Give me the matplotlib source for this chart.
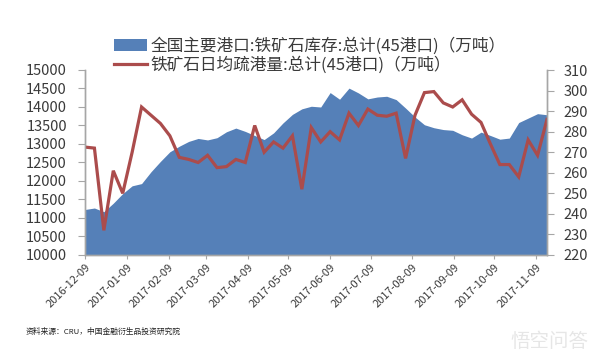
import matplotlib
matplotlib.use('Agg')
import matplotlib.pyplot as plt
import matplotlib.dates as mdates
import pandas as pd

plt.rcParams['font.family'] = ['Noto Sans CJK SC', 'DejaVu Sans']

start_date = '2016-12-09'
n_weeks = 50
stock = [11230, 11270, 11170, 11400, 11660, 11870, 11930, 12250, 12530, 12790,
         12940, 13070, 13150, 13110, 13170, 13330, 13430, 13340, 13230, 13120,
         13300, 13570, 13800, 13950, 14020, 14000, 14390, 14210, 14510, 14380,
         14220, 14270, 14290, 14200, 13970, 13730, 13520, 13440, 13390, 13370,
         13250, 13160, 13320, 13230, 13130, 13160, 13580, 13700, 13820, 13790]
shipped = [272.5, 272, 232, 261, 250, 270, 292, 288, 284, 278,
           267.5, 266.5, 265, 268.5, 262.5, 263, 266.5, 265, 283, 270,
           275, 272, 278, 252, 282, 275, 280, 276, 289, 283,
           291, 288, 287.5, 289, 267, 288, 299, 299.5, 294, 292,
           295.5, 288.5, 284.5, 274, 264, 264, 258, 276, 268.5, 286]
stock_ticks = list(range(10000, 15001, 500))
shipped_ticks = list(range(220, 311, 10))
tick_dates = ['2016-12-09', '2017-01-09', '2017-02-09', '2017-03-09', '2017-04-09', '2017-05-09',
              '2017-06-09', '2017-07-09', '2017-08-09', '2017-09-09', '2017-10-09', '2017-11-09']
stock_label = '全国主要港口:铁矿石库存:总计(45港口)（万吨）'
shipped_label = '铁矿石日均疏港量:总计(45港口)（万吨）'
source_text = '资料来源：CRU，中国金融衍生品投资研究院'
watermark = '悟空问答'

dates = pd.date_range(start_date, periods=n_weeks, freq='7D')
ticks = pd.to_datetime(tick_dates)

axis_gray = '#a6a6a6'
text_gray = '#3a3a3a'

fig = plt.figure(figsize=(6.03, 3.61), dpi=100)
ax = fig.add_axes([85 / 603, 1 - 255 / 361, (547 - 85) / 603, (255 - 70) / 361])
ax.fill_between(dates, stock, 10000, color='#5580b8', lw=0, label=stock_label)
ax.set_xlim(dates[0], dates[-1])
ax.set_ylim(10000, 15000)
ax.set_yticks(stock_ticks)
ax.set_xticks(ticks)
ax.xaxis.set_major_formatter(mdates.DateFormatter('%Y-%m-%d'))
ax.tick_params(axis='y', labelsize=10.5, colors=axis_gray, labelcolor=text_gray, length=5, width=0.8, pad=8)
ax.tick_params(axis='x', labelsize=8, colors=axis_gray, labelcolor=text_gray, length=3, width=0.8, pad=2)
for lab in ax.get_xticklabels():
    lab.set_rotation(45)
    lab.set_ha('right')
    lab.set_rotation_mode('anchor')

ax2 = ax.twinx()
ax2.plot(dates, shipped, color='#ab4c4c', lw=2.3, solid_joinstyle='miter', label=shipped_label)
ax2.set_ylim(220, 310)
ax2.set_yticks(shipped_ticks)
ax2.tick_params(axis='y', labelsize=10.5, colors=axis_gray, labelcolor=text_gray, length=5, width=0.8, pad=7)

for a in [ax, ax2]:
    a.spines['top'].set_visible(False)
    for side in ['left', 'right', 'bottom']:
        a.spines[side].set_color(axis_gray)
        a.spines[side].set_linewidth(1)

handles = ax.get_legend_handles_labels()[0] + ax2.get_legend_handles_labels()[0]
labels = [stock_label, shipped_label]
fig.legend(handles, labels, loc='upper left', bbox_to_anchor=(114 / 603, 1 - 37 / 361), frameon=False,
           fontsize=12, labelcolor=text_gray, labelspacing=0.1, handlelength=1.95, handletextpad=0.25,
           borderpad=0, borderaxespad=0)

fig.text(26 / 603, 1 - 332 / 361, source_text, fontsize=5.6, style='italic', color='#222222', va='center')
fig.text(510 / 603, 1 - 341 / 361, watermark, fontsize=14, color='#e6e6e6', va='center')

fig.savefig('out.png', dpi=100)
